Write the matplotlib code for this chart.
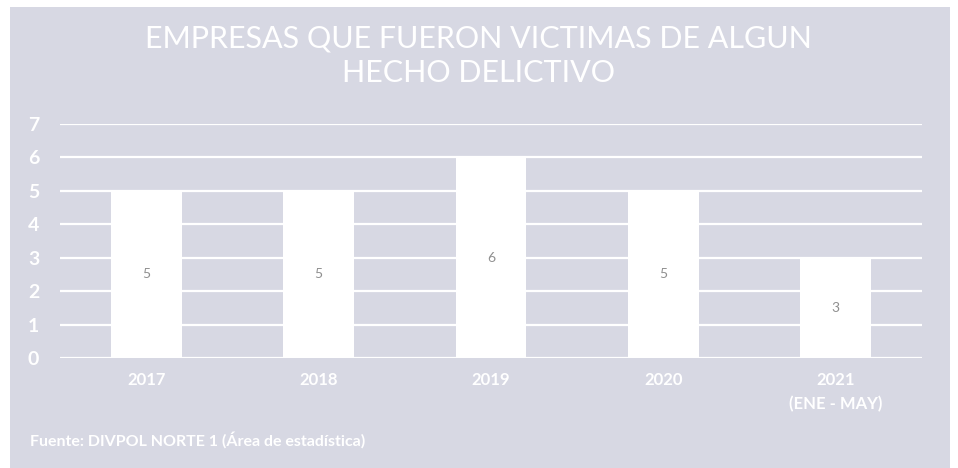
import matplotlib
matplotlib.use("Agg")
import matplotlib.pyplot as plt
from matplotlib.patches import Rectangle

# data
years = ["2017", "2018", "2019", "2020", "2021\n(ENE - MAY)"]
empresas = [5, 5, 6, 5, 3]
yticks = [0, 1, 2, 3, 4, 5, 6, 7]

panel = "#d7d8e3"
plt.rcParams['font.family'] = ['Lato', 'DejaVu Sans']

fig = plt.figure(figsize=(9.58, 4.68), dpi=100)
fig.patch.set_facecolor("white")
# grey panel behind everything
fig.add_artist(Rectangle((10 / 958, 0), 940 / 958, 1 - 7 / 468,
                         transform=fig.transFigure, facecolor=panel,
                         edgecolor="none", zorder=-5))

ax = fig.add_axes([60 / 958, 110 / 468, 862 / 958, 234 / 468])
ax.set_zorder(2)
ax.set_facecolor("none")
x = range(len(years))
bars = ax.bar(x, empresas, width=0.41, color="white", zorder=3)
for b, v in zip(bars, empresas):
    ax.text(b.get_x() + b.get_width() / 2, v / 2, str(v), ha="center", va="center",
            color="#8f8f8f", fontsize=10, zorder=4)

ax.set_xlim(-0.5, len(years) - 0.5)
ax.set_ylim(0, 7)
ax.set_yticks(yticks)
ax.yaxis.grid(True, color="white", linewidth=1.6, zorder=1)
ax.set_axisbelow(True)
for s in ax.spines.values():
    s.set_visible(False)
ax.tick_params(length=0)
ax.set_xticks(list(x))
ax.set_xticklabels(years, color="white", fontsize=12, fontweight="bold",
                   linespacing=1.6)
ax.tick_params(axis="x", pad=10)
ax.set_yticklabels([str(t) for t in yticks], color="white", fontsize=14,
                   fontweight="bold")
ax.tick_params(axis="y", pad=15)

fig.text(478 / 958, 1 - 56 / 468, "EMPRESAS QUE FUERON VICTIMAS DE ALGUN\nHECHO DELICTIVO",
         ha="center", va="center", color="white", fontsize=22, linespacing=1.3)
fig.text(30 / 958, 1 - 440 / 468, "Fuente: DIVPOL NORTE 1 (Área de estadística)",
         ha="left", va="center", color="white", fontsize=11.5, fontweight="bold")

fig.savefig("out.png", dpi=100, facecolor=fig.get_facecolor())
